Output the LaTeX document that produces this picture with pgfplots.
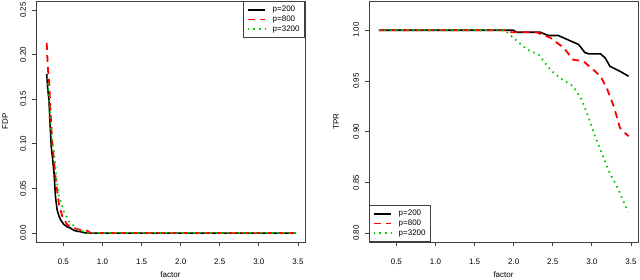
\documentclass[border=0pt]{standalone}
\usepackage{fontspec}
\setmainfont{Liberation Sans}
\usepackage{graphicx}
\usepackage{pgfplots}
\pgfplotsset{compat=1.18}
\definecolor{rred}{RGB}{255,0,0}
\definecolor{rgreen}{RGB}{0,205,0}
\tikzset{rframe/.style={black!75, line width=0.8pt}}
\pgfplotsset{
  rstyle/.style={
    scale only axis, width=269pt, height=241pt,
    anchor=south west,
    axis lines=box,
    axis line style={black!75, line width=0.8pt},
    tick style={black!75, line width=0.8pt},
    tick align=outside, major tick length=4pt,
    xtick pos=left, ytick pos=left,
    xmin=0.15, xmax=3.59,
    xtick={0.5,1,...,3.5},
    font=\fontsize{8}{9.6}\selectfont,
    tick label style={font=\fontsize{8}{9.6}\selectfont},
    /pgf/number format/assume math mode=true,
    xticklabel style={yshift=-9pt, /pgf/number format/.cd, fixed, fixed zerofill, precision=1},
    yticklabel={\rotatebox{90}{\pgfmathprintnumber[fixed,fixed zerofill,precision=2]{\tick}}},
    yticklabel style={anchor=east, xshift=-2.5pt},
    xlabel={factor},
    xlabel style={at={(axis description cs:0.5,-0.137)}, anchor=center},
    legend cell align=left,
    legend image code/.code={\draw[##1] (0pt,0pt) -- (17pt,0pt);},
    legend style={draw=black!75, line width=0.8pt, fill=white,
      font=\fontsize{8}{9.6}\selectfont, inner xsep=3.5pt, inner ysep=3.5pt,
      row sep=-0.5pt, column sep=5.5pt, nodes={inner sep=1.5pt}},
    clip=false,
  },
  blk/.style={black, line width=1.6pt},
  rd/.style={rred, line width=1.8pt, dash pattern=on 7pt off 5pt},
  gr/.style={rgreen, line width=1.8pt, dash pattern=on 1.6pt off 4pt},
}
\begin{document}
\begin{tikzpicture}
\useasboundingbox (0,0) rectangle (640pt,280pt);
\begin{axis}[rstyle, at={(36pt,38pt)},
  ymin=-0.01, ymax=0.26, ytick={0,0.05,...,0.25},
  ylabel={FDP},
  ylabel style={at={(axis description cs:-0.1152,0.5)}, anchor=center},
  legend style={at={(1,1)}, anchor=north east},
]
\draw[rframe] (rel axis cs:0,0) rectangle (rel axis cs:1,1);
\addplot[blk] coordinates {
(0.287,0.178) (0.300,0.162) (0.316,0.149) (0.330,0.122) (0.345,0.097)
(0.360,0.085) (0.380,0.068) (0.400,0.040) (0.420,0.026) (0.444,0.019)
(0.470,0.014) (0.508,0.0095) (0.550,0.007) (0.593,0.0055) (0.635,0.003)
(0.680,0.002) (0.720,0.0015) (0.763,0.0005) (0.800,0) (3.470,0)};
\addlegendentry{p=200}
\addplot[rd] coordinates {
(0.287,0.213) (0.303,0.183) (0.316,0.172) (0.329,0.149) (0.338,0.132)
(0.360,0.097) (0.380,0.082) (0.402,0.060) (0.444,0.032) (0.487,0.0186)
(0.551,0.0093) (0.620,0.006) (0.679,0.0045) (0.740,0.003) (0.807,0.0026)
(0.849,0) (3.470,0)};
\addlegendentry{p=800}
\addplot[gr] coordinates {
(0.296,0.174) (0.329,0.138) (0.338,0.119) (0.380,0.090) (0.414,0.060)
(0.444,0.041) (0.508,0.024) (0.572,0.013) (0.679,0.0045) (0.807,0) (3.470,0)};
\addlegendentry{p=3200}
\end{axis}
\begin{axis}[rstyle, at={(369pt,38pt)},
  ymin=0.7912, ymax=1.0288, ytick={0.8,0.85,...,1.0},
  ylabel={TPR},
  ylabel style={at={(axis description cs:-0.1227,0.5)}, anchor=center},
  legend style={at={(0,0)}, anchor=south west},
]
\draw[rframe] (rel axis cs:0,0) rectangle (rel axis cs:1,1);
\addplot[blk] coordinates {
(0.275,1) (1.995,1) (2.04,0.998) (2.34,0.998) (2.44,0.9948) (2.57,0.9948)
(2.68,0.991) (2.83,0.986) (2.91,0.978) (2.96,0.9767) (3.11,0.9767)
(3.17,0.9727) (3.23,0.9645) (3.36,0.9595) (3.47,0.9546)};
\addlegendentry{p=200}
\addplot[rd] coordinates {
(0.275,1) (1.91,1) (1.97,0.998) (2.29,0.998) (2.47,0.9925) (2.64,0.9826)
(2.76,0.971) (2.89,0.9694) (3.02,0.961) (3.11,0.9546) (3.19,0.943)
(3.28,0.925) (3.36,0.9036) (3.47,0.8954)};
\addlegendentry{p=800}
\addplot[gr] coordinates {
(0.275,1) (1.89,1) (1.995,0.9925) (2.17,0.981) (2.32,0.976) (2.47,0.961)
(2.59,0.953) (2.76,0.9447) (2.87,0.9316) (2.96,0.9135) (3.04,0.8954)
(3.07,0.890) (3.15,0.874) (3.23,0.859) (3.34,0.843) (3.46,0.821)};
\addlegendentry{p=3200}
\end{axis}
\end{tikzpicture}
\end{document}
